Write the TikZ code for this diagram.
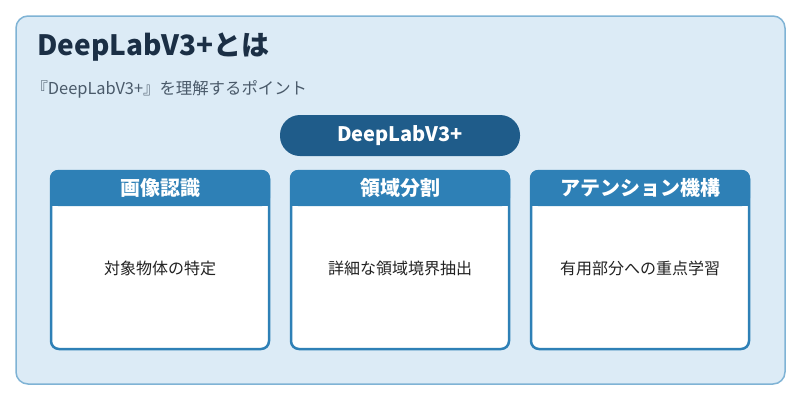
\documentclass[tikz,border=0pt]{standalone}
\usepackage{fontspec}
\setmainfont{Noto Sans CJK JP}
\definecolor{bgc}{HTML}{DCEBF6}
\definecolor{bdc}{HTML}{7FB3D5}
\definecolor{pill}{HTML}{1F5C8A}
\definecolor{hdr}{HTML}{2E80B6}
\definecolor{ttl}{HTML}{1B2F45}
\definecolor{sub}{HTML}{4A5A6A}
\definecolor{txt}{HTML}{222222}
\begin{document}
\begin{tikzpicture}[x=1pt,y=-1pt,
  card/.style={draw=hdr,line width=2.5pt,fill=white,rounded corners=8pt},
  head/.style={font=\bfseries\fontsize{20}{24}\selectfont,text=white},
  body/.style={font=\fontsize{16}{19}\selectfont,text=txt}]
\useasboundingbox (0,0) rectangle (800,400);
\fill[white] (0,0) rectangle (800,400);
\draw[bdc,fill=bgc,line width=1.5pt,rounded corners=12pt] (16,16) rectangle (785,384);
\node[anchor=west,text=ttl,font=\bfseries\fontsize{28}{32}\selectfont] (title) at (34,47) {DeepLabV3+とは};
\node[anchor=west,text=sub,font=\fontsize{16.4}{19}\selectfont] (sub) at (28,89) {『DeepLabV3+』を理解するポイント};
\node[fill=pill,rounded corners=20pt,minimum width=240pt,minimum height=41pt,text=white,font=\bfseries\fontsize{20}{24}\selectfont] (pill) at (400,135.5) {DeepLabV3+};
\foreach \i/\x/\h/\b in {1/160/画像認識/対象物体の特定,2/400/領域分割/詳細な領域境界抽出,3/640/アテンション機構/有用部分への重点学習}{
  \draw[card] (\x-109,171) rectangle (\x+109,349);
  \fill[hdr,rounded corners=8pt] (\x-110,170) rectangle (\x+110,206);
  \fill[hdr] (\x-110,190) rectangle (\x+110,206);
  \node[head] (h\i) at (\x,188) {\h};
  \node[body] (b\i) at (\x,268) {\b};
}
\end{tikzpicture}
\end{document}
